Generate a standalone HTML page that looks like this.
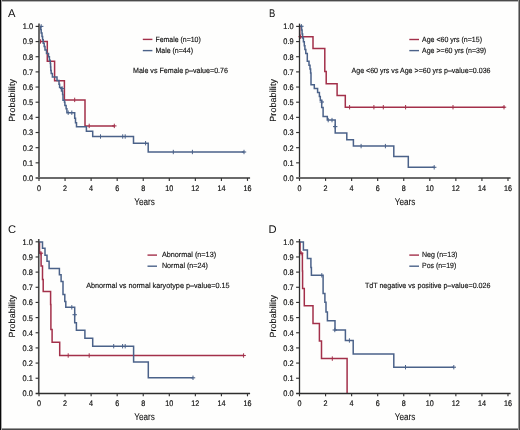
<!DOCTYPE html>
<html><head><meta charset="utf-8"><title>Kaplan-Meier curves</title>
<style>
html,body{margin:0;padding:0;background:#fff;width:520px;height:430px;overflow:hidden}
svg{display:block;will-change:transform}
text{font-family:'Liberation Sans', sans-serif;text-rendering:geometricPrecision;fill:#111;stroke:#111;stroke-width:0.22px}
.tk{font-size:8.1px;stroke-width:0.2px}
.ti{font-size:9.8px;stroke-width:0.1px}
.lg{font-size:7.6px;stroke-width:0.15px}
.pl{font-size:11.2px;stroke:none}
</style></head><body>
<svg width="520" height="430" viewBox="0 0 520 430">
<defs><filter id="soft" x="0" y="0" width="520" height="430" filterUnits="userSpaceOnUse" color-interpolation-filters="sRGB"><feGaussianBlur stdDeviation="0.42"/></filter></defs>
<rect x="0" y="0" width="520" height="430" fill="#fefefd"/>
<rect x="0" y="0" width="520" height="1" fill="#4a4a4a"/>
<rect x="0" y="1" width="520" height="1" fill="#b4b4b4"/>
<rect x="0" y="429" width="520" height="1" fill="#4a4a4a"/>
<rect x="0" y="428" width="520" height="1" fill="#9a9a9a"/>
<rect x="0" y="0" width="1" height="430" fill="#080808"/>
<rect x="1" y="0" width="1" height="430" fill="#a8a8a8"/>
<rect x="519" y="0" width="1" height="430" fill="#4a4a4a"/>
<rect x="518" y="0" width="1" height="430" fill="#9a9a9a"/>
<g filter="url(#soft)">
<text x="7.9" y="17.4" class="pl">A</text>
<text x="269.0" y="17.4" class="pl" textLength="6.3" lengthAdjust="spacingAndGlyphs">B</text>
<text x="7.9" y="232.5" class="pl">C</text>
<text x="268.4" y="232.5" class="pl">D</text>
<path d="M39.3,26.4 V41.5 H47.3 V61.2 H54.6 V80.7 H64.4 V99.9 H85.0 V125.9 H114.6" fill="none" stroke="#a3304a" stroke-width="1.5" stroke-linejoin="miter" stroke-linecap="butt"/>
<line x1="40.50" y1="39.30" x2="40.50" y2="43.70" stroke="#a3304a" stroke-width="1.0"/>
<line x1="38.30" y1="41.50" x2="42.70" y2="41.50" stroke="#a3304a" stroke-width="1.1"/>
<line x1="74.70" y1="97.70" x2="74.70" y2="102.10" stroke="#a3304a" stroke-width="1.0"/>
<line x1="89.20" y1="123.70" x2="89.20" y2="128.10" stroke="#a3304a" stroke-width="1.0"/>
<line x1="114.30" y1="123.70" x2="114.30" y2="128.10" stroke="#a3304a" stroke-width="1.0"/>
<line x1="112.10" y1="125.90" x2="116.50" y2="125.90" stroke="#a3304a" stroke-width="1.1"/>
<path d="M38.8,26.4 H40.4 V29.5 H41.2 V33.0 H42.0 V36.4 H42.6 V39.8 H43.2 V43.2 H44.2 V46.6 H45.0 V50.0 H46.5 V53.4 H48.5 V56.8 H49.4 V60.2 H50.3 V63.6 H50.6 V67.0 H50.8 V70.4 H51.2 V73.6 H52.4 V77.0 H57.0 V80.6 H59.0 V84.2 H59.6 V87.6 H61.5 V91.0 H62.6 V94.4 H63.0 V100.3 H64.5 V102.3 H64.9 V105.6 H66.1 V108.8 H66.9 V112.7 H74.7 V118.2 H75.5 V122.8 H76.5 V126.7 H86.4 V131.3 H92.7 V136.5 H133.5 V143.2 H148.2 V152.0 H244.2" fill="none" stroke="#4b6289" stroke-width="1.5" stroke-linejoin="miter" stroke-linecap="butt"/>
<line x1="41.20" y1="24.20" x2="41.20" y2="28.60" stroke="#4b6289" stroke-width="1.0"/>
<line x1="39.00" y1="26.40" x2="43.40" y2="26.40" stroke="#4b6289" stroke-width="1.1"/>
<line x1="62.20" y1="86.40" x2="62.20" y2="90.80" stroke="#4b6289" stroke-width="1.0"/>
<line x1="60.00" y1="88.60" x2="64.40" y2="88.60" stroke="#4b6289" stroke-width="1.1"/>
<line x1="68.20" y1="110.50" x2="68.20" y2="114.90" stroke="#4b6289" stroke-width="1.0"/>
<line x1="71.80" y1="110.50" x2="71.80" y2="114.90" stroke="#4b6289" stroke-width="1.0"/>
<line x1="100.50" y1="134.30" x2="100.50" y2="138.70" stroke="#4b6289" stroke-width="1.0"/>
<line x1="122.70" y1="134.30" x2="122.70" y2="138.70" stroke="#4b6289" stroke-width="1.0"/>
<line x1="125.20" y1="134.30" x2="125.20" y2="138.70" stroke="#4b6289" stroke-width="1.0"/>
<line x1="145.60" y1="141.00" x2="145.60" y2="145.40" stroke="#4b6289" stroke-width="1.0"/>
<line x1="173.30" y1="149.80" x2="173.30" y2="154.20" stroke="#4b6289" stroke-width="1.0"/>
<line x1="192.40" y1="149.80" x2="192.40" y2="154.20" stroke="#4b6289" stroke-width="1.0"/>
<line x1="244.00" y1="149.80" x2="244.00" y2="154.20" stroke="#4b6289" stroke-width="1.0"/>
<line x1="241.80" y1="152.00" x2="246.20" y2="152.00" stroke="#4b6289" stroke-width="1.1"/>
<line x1="142.8" y1="39.4" x2="152.4" y2="39.4" stroke="#a3304a" stroke-width="1.4"/>
<line x1="142.8" y1="50.6" x2="152.4" y2="50.6" stroke="#4b6289" stroke-width="1.4"/>
<text x="155.4" y="41.55" class="lg" textLength="45.4" lengthAdjust="spacingAndGlyphs">Female (n=10)</text>
<text x="155.4" y="52.75" class="lg" textLength="37.6" lengthAdjust="spacingAndGlyphs">Male (n=44)</text>
<text x="133.0" y="73.1" class="lg" textLength="95.0" lengthAdjust="spacingAndGlyphs">Male vs Female p–value=0.76</text>
<path d="M299.7,26.2 V36.7 H313.0 V48.5 H324.8 V71.5 H326.2 V83.8 H337.1 V95.4 H345.3 V107.2 H504.8" fill="none" stroke="#a3304a" stroke-width="1.5" stroke-linejoin="miter" stroke-linecap="butt"/>
<line x1="300.60" y1="34.50" x2="300.60" y2="38.90" stroke="#a3304a" stroke-width="1.0"/>
<line x1="298.40" y1="36.70" x2="302.80" y2="36.70" stroke="#a3304a" stroke-width="1.1"/>
<line x1="349.60" y1="105.00" x2="349.60" y2="109.40" stroke="#a3304a" stroke-width="1.0"/>
<line x1="373.90" y1="105.00" x2="373.90" y2="109.40" stroke="#a3304a" stroke-width="1.0"/>
<line x1="383.30" y1="105.00" x2="383.30" y2="109.40" stroke="#a3304a" stroke-width="1.0"/>
<line x1="405.60" y1="105.00" x2="405.60" y2="109.40" stroke="#a3304a" stroke-width="1.0"/>
<line x1="453.00" y1="105.00" x2="453.00" y2="109.40" stroke="#a3304a" stroke-width="1.0"/>
<line x1="504.00" y1="105.00" x2="504.00" y2="109.40" stroke="#a3304a" stroke-width="1.0"/>
<line x1="501.80" y1="107.20" x2="506.20" y2="107.20" stroke="#a3304a" stroke-width="1.1"/>
<path d="M299.5,26.2 H301.6 V30.1 H302.1 V34.0 H302.6 V37.9 H303.4 V41.8 H304.3 V45.7 H304.9 V49.6 H305.8 V53.5 H307.3 V61.3 H309.0 V65.2 H310.0 V69.1 H310.6 V73.0 H311.0 V84.7 H314.3 V88.6 H317.6 V92.5 H319.4 V96.4 H320.3 V100.3 H321.7 V107.5 H323.1 V116.4 H327.3 V120.1 H335.2 V133.1 H346.8 V139.7 H353.4 V146.1 H393.8 V156.4 H408.3 V167.3 H434.5" fill="none" stroke="#4b6289" stroke-width="1.5" stroke-linejoin="miter" stroke-linecap="butt"/>
<line x1="301.40" y1="24.10" x2="301.40" y2="28.50" stroke="#4b6289" stroke-width="1.0"/>
<line x1="299.20" y1="26.30" x2="303.60" y2="26.30" stroke="#4b6289" stroke-width="1.1"/>
<line x1="321.80" y1="99.80" x2="321.80" y2="104.20" stroke="#4b6289" stroke-width="1.0"/>
<line x1="319.60" y1="102.00" x2="324.00" y2="102.00" stroke="#4b6289" stroke-width="1.1"/>
<line x1="328.20" y1="117.90" x2="328.20" y2="122.30" stroke="#4b6289" stroke-width="1.0"/>
<line x1="332.00" y1="117.90" x2="332.00" y2="122.30" stroke="#4b6289" stroke-width="1.0"/>
<line x1="335.20" y1="124.40" x2="335.20" y2="128.80" stroke="#4b6289" stroke-width="1.0"/>
<line x1="333.00" y1="126.60" x2="337.40" y2="126.60" stroke="#4b6289" stroke-width="1.1"/>
<line x1="361.10" y1="143.90" x2="361.10" y2="148.30" stroke="#4b6289" stroke-width="1.0"/>
<line x1="385.40" y1="143.90" x2="385.40" y2="148.30" stroke="#4b6289" stroke-width="1.0"/>
<line x1="434.20" y1="165.10" x2="434.20" y2="169.50" stroke="#4b6289" stroke-width="1.0"/>
<line x1="432.00" y1="167.30" x2="436.40" y2="167.30" stroke="#4b6289" stroke-width="1.1"/>
<line x1="409.3" y1="39.5" x2="419.0" y2="39.5" stroke="#a3304a" stroke-width="1.4"/>
<line x1="409.3" y1="50.6" x2="419.0" y2="50.6" stroke="#4b6289" stroke-width="1.4"/>
<text x="422.0" y="41.65" class="lg" textLength="60.0" lengthAdjust="spacingAndGlyphs">Age &lt;60 yrs (n=15)</text>
<text x="422.0" y="52.75" class="lg" textLength="64.2" lengthAdjust="spacingAndGlyphs">Age &gt;=60 yrs (n=39)</text>
<text x="351.5" y="73.1" class="lg" textLength="139.0" lengthAdjust="spacingAndGlyphs">Age &lt;60 yrs vs Age &gt;=60 yrs p–value=0.036</text>
<path d="M39.5,241.8 V253.2 H41.1 V266.1 H42.5 V279.5 H43.2 V291.4 H50.6 V304.5 H50.9 V329.6 H52.1 V342.3 H59.7 V355.5 H244.0" fill="none" stroke="#a3304a" stroke-width="1.5" stroke-linejoin="miter" stroke-linecap="butt"/>
<line x1="40.90" y1="251.00" x2="40.90" y2="255.40" stroke="#a3304a" stroke-width="1.0"/>
<line x1="38.70" y1="253.20" x2="43.10" y2="253.20" stroke="#a3304a" stroke-width="1.1"/>
<line x1="68.20" y1="353.30" x2="68.20" y2="357.70" stroke="#a3304a" stroke-width="1.0"/>
<line x1="89.20" y1="353.30" x2="89.20" y2="357.70" stroke="#a3304a" stroke-width="1.0"/>
<line x1="243.60" y1="353.30" x2="243.60" y2="357.70" stroke="#a3304a" stroke-width="1.0"/>
<line x1="241.40" y1="355.50" x2="245.80" y2="355.50" stroke="#a3304a" stroke-width="1.1"/>
<path d="M38.8,241.9 H42.5 V248.3 H45.0 V255.3 H47.0 V261.3 H49.1 V268.4 H59.4 V274.7 H61.1 V281.4 H63.0 V294.6 H64.8 V301.5 H65.8 V307.3 H74.7 V322.7 H76.4 V330.3 H84.9 V338.2 H92.7 V346.2 H133.6 V362.0 H148.3 V377.8 H193.2" fill="none" stroke="#4b6289" stroke-width="1.5" stroke-linejoin="miter" stroke-linecap="butt"/>
<line x1="71.80" y1="305.10" x2="71.80" y2="309.50" stroke="#4b6289" stroke-width="1.0"/>
<line x1="74.70" y1="312.50" x2="74.70" y2="316.90" stroke="#4b6289" stroke-width="1.0"/>
<line x1="72.50" y1="314.70" x2="76.90" y2="314.70" stroke="#4b6289" stroke-width="1.1"/>
<line x1="113.70" y1="344.00" x2="113.70" y2="348.40" stroke="#4b6289" stroke-width="1.0"/>
<line x1="122.60" y1="344.00" x2="122.60" y2="348.40" stroke="#4b6289" stroke-width="1.0"/>
<line x1="125.20" y1="344.00" x2="125.20" y2="348.40" stroke="#4b6289" stroke-width="1.0"/>
<line x1="193.00" y1="375.60" x2="193.00" y2="380.00" stroke="#4b6289" stroke-width="1.0"/>
<line x1="190.80" y1="377.80" x2="195.20" y2="377.80" stroke="#4b6289" stroke-width="1.1"/>
<line x1="147.5" y1="255.1" x2="157.0" y2="255.1" stroke="#a3304a" stroke-width="1.4"/>
<line x1="147.5" y1="266.2" x2="157.0" y2="266.2" stroke="#4b6289" stroke-width="1.4"/>
<text x="161.9" y="257.25" class="lg" textLength="54.2" lengthAdjust="spacingAndGlyphs">Abnormal (n=13)</text>
<text x="161.9" y="268.35" class="lg" textLength="46.0" lengthAdjust="spacingAndGlyphs">Normal (n=24)</text>
<text x="86.2" y="287.5" class="lg" textLength="143.4" lengthAdjust="spacingAndGlyphs">Abnormal vs normal karyotype p–value=0.15</text>
<path d="M300.0,241.8 V253.2 H302.4 V270.9 H302.6 V288.4 H304.3 V305.8 H313.0 V323.4 H319.4 V341.0 H321.5 V358.6 H347.1 V393.3" fill="none" stroke="#a3304a" stroke-width="1.5" stroke-linejoin="miter" stroke-linecap="butt"/>
<line x1="301.10" y1="251.00" x2="301.10" y2="255.40" stroke="#a3304a" stroke-width="1.0"/>
<line x1="298.90" y1="253.20" x2="303.30" y2="253.20" stroke="#a3304a" stroke-width="1.1"/>
<line x1="332.30" y1="356.40" x2="332.30" y2="360.80" stroke="#a3304a" stroke-width="1.0"/>
<path d="M299.5,242.0 H303.4 V250.1 H307.4 V258.6 H310.9 V267.4 H311.4 V275.3 H323.1 V293.6 H324.9 V302.3 H326.0 V312.0 H327.4 V320.7 H335.0 V330.0 H345.4 V340.5 H353.2 V354.0 H393.8 V367.2 H454.0" fill="none" stroke="#4b6289" stroke-width="1.5" stroke-linejoin="miter" stroke-linecap="butt"/>
<line x1="321.80" y1="273.10" x2="321.80" y2="277.50" stroke="#4b6289" stroke-width="1.0"/>
<line x1="334.80" y1="327.80" x2="334.80" y2="332.20" stroke="#4b6289" stroke-width="1.0"/>
<line x1="332.60" y1="330.00" x2="337.00" y2="330.00" stroke="#4b6289" stroke-width="1.1"/>
<line x1="349.40" y1="338.30" x2="349.40" y2="342.70" stroke="#4b6289" stroke-width="1.0"/>
<line x1="405.50" y1="365.00" x2="405.50" y2="369.40" stroke="#4b6289" stroke-width="1.0"/>
<line x1="453.80" y1="365.00" x2="453.80" y2="369.40" stroke="#4b6289" stroke-width="1.0"/>
<line x1="451.60" y1="367.20" x2="456.00" y2="367.20" stroke="#4b6289" stroke-width="1.1"/>
<line x1="409.3" y1="255.1" x2="419.0" y2="255.1" stroke="#a3304a" stroke-width="1.4"/>
<line x1="409.3" y1="266.2" x2="419.0" y2="266.2" stroke="#4b6289" stroke-width="1.4"/>
<text x="422.0" y="257.25" class="lg" textLength="35.4" lengthAdjust="spacingAndGlyphs">Neg (n=13)</text>
<text x="422.0" y="268.35" class="lg" textLength="34.2" lengthAdjust="spacingAndGlyphs">Pos (n=19)</text>
<text x="364.9" y="287.5" class="lg" textLength="125.6" lengthAdjust="spacingAndGlyphs">TdT negative vs positive p–value=0.026</text>
<line x1="39.00" y1="23.60" x2="39.00" y2="178.00" stroke="#6a6a6a" stroke-width="2.0"/>
<line x1="35.60" y1="178.00" x2="250.08" y2="178.00" stroke="#6a6a6a" stroke-width="2.0"/>
<text x="33.10" y="180.90" text-anchor="end" class="tk" textLength="10.3" lengthAdjust="spacingAndGlyphs">0.0</text>
<line x1="35.60" y1="162.84" x2="39.00" y2="162.84" stroke="#333" stroke-width="1.15"/>
<text x="33.10" y="165.74" text-anchor="end" class="tk" textLength="10.3" lengthAdjust="spacingAndGlyphs">0.1</text>
<line x1="35.60" y1="147.68" x2="39.00" y2="147.68" stroke="#333" stroke-width="1.15"/>
<text x="33.10" y="150.58" text-anchor="end" class="tk" textLength="10.3" lengthAdjust="spacingAndGlyphs">0.2</text>
<line x1="35.60" y1="132.52" x2="39.00" y2="132.52" stroke="#333" stroke-width="1.15"/>
<text x="33.10" y="135.42" text-anchor="end" class="tk" textLength="10.3" lengthAdjust="spacingAndGlyphs">0.3</text>
<line x1="35.60" y1="117.36" x2="39.00" y2="117.36" stroke="#333" stroke-width="1.15"/>
<text x="33.10" y="120.26" text-anchor="end" class="tk" textLength="10.3" lengthAdjust="spacingAndGlyphs">0.4</text>
<line x1="35.60" y1="102.20" x2="39.00" y2="102.20" stroke="#333" stroke-width="1.15"/>
<text x="33.10" y="105.10" text-anchor="end" class="tk" textLength="10.3" lengthAdjust="spacingAndGlyphs">0.5</text>
<line x1="35.60" y1="87.04" x2="39.00" y2="87.04" stroke="#333" stroke-width="1.15"/>
<text x="33.10" y="89.94" text-anchor="end" class="tk" textLength="10.3" lengthAdjust="spacingAndGlyphs">0.6</text>
<line x1="35.60" y1="71.88" x2="39.00" y2="71.88" stroke="#333" stroke-width="1.15"/>
<text x="33.10" y="74.78" text-anchor="end" class="tk" textLength="10.3" lengthAdjust="spacingAndGlyphs">0.7</text>
<line x1="35.60" y1="56.72" x2="39.00" y2="56.72" stroke="#333" stroke-width="1.15"/>
<text x="33.10" y="59.62" text-anchor="end" class="tk" textLength="10.3" lengthAdjust="spacingAndGlyphs">0.8</text>
<line x1="35.60" y1="41.56" x2="39.00" y2="41.56" stroke="#333" stroke-width="1.15"/>
<text x="33.10" y="44.46" text-anchor="end" class="tk" textLength="10.3" lengthAdjust="spacingAndGlyphs">0.9</text>
<line x1="35.60" y1="26.40" x2="39.00" y2="26.40" stroke="#333" stroke-width="1.15"/>
<text x="33.10" y="29.30" text-anchor="end" class="tk" textLength="10.3" lengthAdjust="spacingAndGlyphs">1.0</text>
<line x1="39.00" y1="178.00" x2="39.00" y2="180.90" stroke="#333" stroke-width="1.15"/>
<text x="39.00" y="190.50" text-anchor="middle" class="tk" textLength="4.0" lengthAdjust="spacingAndGlyphs">0</text>
<line x1="65.06" y1="178.00" x2="65.06" y2="180.90" stroke="#333" stroke-width="1.15"/>
<text x="65.06" y="190.50" text-anchor="middle" class="tk" textLength="4.0" lengthAdjust="spacingAndGlyphs">2</text>
<line x1="91.12" y1="178.00" x2="91.12" y2="180.90" stroke="#333" stroke-width="1.15"/>
<text x="91.12" y="190.50" text-anchor="middle" class="tk" textLength="4.0" lengthAdjust="spacingAndGlyphs">4</text>
<line x1="117.18" y1="178.00" x2="117.18" y2="180.90" stroke="#333" stroke-width="1.15"/>
<text x="117.18" y="190.50" text-anchor="middle" class="tk" textLength="4.0" lengthAdjust="spacingAndGlyphs">6</text>
<line x1="143.24" y1="178.00" x2="143.24" y2="180.90" stroke="#333" stroke-width="1.15"/>
<text x="143.24" y="190.50" text-anchor="middle" class="tk" textLength="4.0" lengthAdjust="spacingAndGlyphs">8</text>
<line x1="169.30" y1="178.00" x2="169.30" y2="180.90" stroke="#333" stroke-width="1.15"/>
<text x="169.30" y="190.50" text-anchor="middle" class="tk" textLength="8.0" lengthAdjust="spacingAndGlyphs">10</text>
<line x1="195.36" y1="178.00" x2="195.36" y2="180.90" stroke="#333" stroke-width="1.15"/>
<text x="195.36" y="190.50" text-anchor="middle" class="tk" textLength="8.0" lengthAdjust="spacingAndGlyphs">12</text>
<line x1="221.42" y1="178.00" x2="221.42" y2="180.90" stroke="#333" stroke-width="1.15"/>
<text x="221.42" y="190.50" text-anchor="middle" class="tk" textLength="8.0" lengthAdjust="spacingAndGlyphs">14</text>
<line x1="247.48" y1="178.00" x2="247.48" y2="180.90" stroke="#333" stroke-width="1.15"/>
<text x="247.48" y="190.50" text-anchor="middle" class="tk" textLength="8.0" lengthAdjust="spacingAndGlyphs">16</text>
<text x="144.50" y="204.50" text-anchor="middle" class="ti" textLength="20.6" lengthAdjust="spacingAndGlyphs">Years</text>
<text transform="translate(15.20,100.30) rotate(-90)" x="0" y="0" text-anchor="middle" class="ti" style="font-size:8.9px;letter-spacing:0.12px;stroke-width:0.12px">Probability</text>
<line x1="299.50" y1="23.60" x2="299.50" y2="178.00" stroke="#2e2e2e" stroke-width="1.3"/>
<line x1="296.10" y1="178.00" x2="510.58" y2="178.00" stroke="#6a6a6a" stroke-width="2.0"/>
<text x="293.60" y="180.90" text-anchor="end" class="tk" textLength="10.3" lengthAdjust="spacingAndGlyphs">0.0</text>
<line x1="296.10" y1="162.84" x2="299.50" y2="162.84" stroke="#333" stroke-width="1.15"/>
<text x="293.60" y="165.74" text-anchor="end" class="tk" textLength="10.3" lengthAdjust="spacingAndGlyphs">0.1</text>
<line x1="296.10" y1="147.68" x2="299.50" y2="147.68" stroke="#333" stroke-width="1.15"/>
<text x="293.60" y="150.58" text-anchor="end" class="tk" textLength="10.3" lengthAdjust="spacingAndGlyphs">0.2</text>
<line x1="296.10" y1="132.52" x2="299.50" y2="132.52" stroke="#333" stroke-width="1.15"/>
<text x="293.60" y="135.42" text-anchor="end" class="tk" textLength="10.3" lengthAdjust="spacingAndGlyphs">0.3</text>
<line x1="296.10" y1="117.36" x2="299.50" y2="117.36" stroke="#333" stroke-width="1.15"/>
<text x="293.60" y="120.26" text-anchor="end" class="tk" textLength="10.3" lengthAdjust="spacingAndGlyphs">0.4</text>
<line x1="296.10" y1="102.20" x2="299.50" y2="102.20" stroke="#333" stroke-width="1.15"/>
<text x="293.60" y="105.10" text-anchor="end" class="tk" textLength="10.3" lengthAdjust="spacingAndGlyphs">0.5</text>
<line x1="296.10" y1="87.04" x2="299.50" y2="87.04" stroke="#333" stroke-width="1.15"/>
<text x="293.60" y="89.94" text-anchor="end" class="tk" textLength="10.3" lengthAdjust="spacingAndGlyphs">0.6</text>
<line x1="296.10" y1="71.88" x2="299.50" y2="71.88" stroke="#333" stroke-width="1.15"/>
<text x="293.60" y="74.78" text-anchor="end" class="tk" textLength="10.3" lengthAdjust="spacingAndGlyphs">0.7</text>
<line x1="296.10" y1="56.72" x2="299.50" y2="56.72" stroke="#333" stroke-width="1.15"/>
<text x="293.60" y="59.62" text-anchor="end" class="tk" textLength="10.3" lengthAdjust="spacingAndGlyphs">0.8</text>
<line x1="296.10" y1="41.56" x2="299.50" y2="41.56" stroke="#333" stroke-width="1.15"/>
<text x="293.60" y="44.46" text-anchor="end" class="tk" textLength="10.3" lengthAdjust="spacingAndGlyphs">0.9</text>
<line x1="296.10" y1="26.40" x2="299.50" y2="26.40" stroke="#333" stroke-width="1.15"/>
<text x="293.60" y="29.30" text-anchor="end" class="tk" textLength="10.3" lengthAdjust="spacingAndGlyphs">1.0</text>
<line x1="299.50" y1="178.00" x2="299.50" y2="180.90" stroke="#333" stroke-width="1.15"/>
<text x="299.50" y="190.50" text-anchor="middle" class="tk" textLength="4.0" lengthAdjust="spacingAndGlyphs">0</text>
<line x1="325.56" y1="178.00" x2="325.56" y2="180.90" stroke="#333" stroke-width="1.15"/>
<text x="325.56" y="190.50" text-anchor="middle" class="tk" textLength="4.0" lengthAdjust="spacingAndGlyphs">2</text>
<line x1="351.62" y1="178.00" x2="351.62" y2="180.90" stroke="#333" stroke-width="1.15"/>
<text x="351.62" y="190.50" text-anchor="middle" class="tk" textLength="4.0" lengthAdjust="spacingAndGlyphs">4</text>
<line x1="377.68" y1="178.00" x2="377.68" y2="180.90" stroke="#333" stroke-width="1.15"/>
<text x="377.68" y="190.50" text-anchor="middle" class="tk" textLength="4.0" lengthAdjust="spacingAndGlyphs">6</text>
<line x1="403.74" y1="178.00" x2="403.74" y2="180.90" stroke="#333" stroke-width="1.15"/>
<text x="403.74" y="190.50" text-anchor="middle" class="tk" textLength="4.0" lengthAdjust="spacingAndGlyphs">8</text>
<line x1="429.80" y1="178.00" x2="429.80" y2="180.90" stroke="#333" stroke-width="1.15"/>
<text x="429.80" y="190.50" text-anchor="middle" class="tk" textLength="8.0" lengthAdjust="spacingAndGlyphs">10</text>
<line x1="455.86" y1="178.00" x2="455.86" y2="180.90" stroke="#333" stroke-width="1.15"/>
<text x="455.86" y="190.50" text-anchor="middle" class="tk" textLength="8.0" lengthAdjust="spacingAndGlyphs">12</text>
<line x1="481.92" y1="178.00" x2="481.92" y2="180.90" stroke="#333" stroke-width="1.15"/>
<text x="481.92" y="190.50" text-anchor="middle" class="tk" textLength="8.0" lengthAdjust="spacingAndGlyphs">14</text>
<line x1="507.98" y1="178.00" x2="507.98" y2="180.90" stroke="#333" stroke-width="1.15"/>
<text x="507.98" y="190.50" text-anchor="middle" class="tk" textLength="8.0" lengthAdjust="spacingAndGlyphs">16</text>
<text x="405.00" y="204.50" text-anchor="middle" class="ti" textLength="20.6" lengthAdjust="spacingAndGlyphs">Years</text>
<text transform="translate(275.70,100.30) rotate(-90)" x="0" y="0" text-anchor="middle" class="ti" style="font-size:8.9px;letter-spacing:0.12px;stroke-width:0.12px">Probability</text>
<line x1="38.75" y1="239.00" x2="38.75" y2="393.50" stroke="#474747" stroke-width="1.6"/>
<line x1="35.60" y1="393.50" x2="250.08" y2="393.50" stroke="#2e2e2e" stroke-width="1.3"/>
<text x="32.85" y="396.30" text-anchor="end" class="tk" textLength="10.3" lengthAdjust="spacingAndGlyphs">0.0</text>
<line x1="35.60" y1="378.24" x2="38.75" y2="378.24" stroke="#333" stroke-width="1.15"/>
<text x="32.85" y="381.14" text-anchor="end" class="tk" textLength="10.3" lengthAdjust="spacingAndGlyphs">0.1</text>
<line x1="35.60" y1="363.08" x2="38.75" y2="363.08" stroke="#333" stroke-width="1.15"/>
<text x="32.85" y="365.98" text-anchor="end" class="tk" textLength="10.3" lengthAdjust="spacingAndGlyphs">0.2</text>
<line x1="35.60" y1="347.92" x2="38.75" y2="347.92" stroke="#333" stroke-width="1.15"/>
<text x="32.85" y="350.82" text-anchor="end" class="tk" textLength="10.3" lengthAdjust="spacingAndGlyphs">0.3</text>
<line x1="35.60" y1="332.76" x2="38.75" y2="332.76" stroke="#333" stroke-width="1.15"/>
<text x="32.85" y="335.66" text-anchor="end" class="tk" textLength="10.3" lengthAdjust="spacingAndGlyphs">0.4</text>
<line x1="35.60" y1="317.60" x2="38.75" y2="317.60" stroke="#333" stroke-width="1.15"/>
<text x="32.85" y="320.50" text-anchor="end" class="tk" textLength="10.3" lengthAdjust="spacingAndGlyphs">0.5</text>
<line x1="35.60" y1="302.44" x2="38.75" y2="302.44" stroke="#333" stroke-width="1.15"/>
<text x="32.85" y="305.34" text-anchor="end" class="tk" textLength="10.3" lengthAdjust="spacingAndGlyphs">0.6</text>
<line x1="35.60" y1="287.28" x2="38.75" y2="287.28" stroke="#333" stroke-width="1.15"/>
<text x="32.85" y="290.18" text-anchor="end" class="tk" textLength="10.3" lengthAdjust="spacingAndGlyphs">0.7</text>
<line x1="35.60" y1="272.12" x2="38.75" y2="272.12" stroke="#333" stroke-width="1.15"/>
<text x="32.85" y="275.02" text-anchor="end" class="tk" textLength="10.3" lengthAdjust="spacingAndGlyphs">0.8</text>
<line x1="35.60" y1="256.96" x2="38.75" y2="256.96" stroke="#333" stroke-width="1.15"/>
<text x="32.85" y="259.86" text-anchor="end" class="tk" textLength="10.3" lengthAdjust="spacingAndGlyphs">0.9</text>
<line x1="35.60" y1="241.80" x2="38.75" y2="241.80" stroke="#333" stroke-width="1.15"/>
<text x="32.85" y="244.70" text-anchor="end" class="tk" textLength="10.3" lengthAdjust="spacingAndGlyphs">1.0</text>
<line x1="39.00" y1="393.50" x2="39.00" y2="396.30" stroke="#333" stroke-width="1.15"/>
<text x="39.00" y="405.90" text-anchor="middle" class="tk" textLength="4.0" lengthAdjust="spacingAndGlyphs">0</text>
<line x1="65.06" y1="393.50" x2="65.06" y2="396.30" stroke="#333" stroke-width="1.15"/>
<text x="65.06" y="405.90" text-anchor="middle" class="tk" textLength="4.0" lengthAdjust="spacingAndGlyphs">2</text>
<line x1="91.12" y1="393.50" x2="91.12" y2="396.30" stroke="#333" stroke-width="1.15"/>
<text x="91.12" y="405.90" text-anchor="middle" class="tk" textLength="4.0" lengthAdjust="spacingAndGlyphs">4</text>
<line x1="117.18" y1="393.50" x2="117.18" y2="396.30" stroke="#333" stroke-width="1.15"/>
<text x="117.18" y="405.90" text-anchor="middle" class="tk" textLength="4.0" lengthAdjust="spacingAndGlyphs">6</text>
<line x1="143.24" y1="393.50" x2="143.24" y2="396.30" stroke="#333" stroke-width="1.15"/>
<text x="143.24" y="405.90" text-anchor="middle" class="tk" textLength="4.0" lengthAdjust="spacingAndGlyphs">8</text>
<line x1="169.30" y1="393.50" x2="169.30" y2="396.30" stroke="#333" stroke-width="1.15"/>
<text x="169.30" y="405.90" text-anchor="middle" class="tk" textLength="8.0" lengthAdjust="spacingAndGlyphs">10</text>
<line x1="195.36" y1="393.50" x2="195.36" y2="396.30" stroke="#333" stroke-width="1.15"/>
<text x="195.36" y="405.90" text-anchor="middle" class="tk" textLength="8.0" lengthAdjust="spacingAndGlyphs">12</text>
<line x1="221.42" y1="393.50" x2="221.42" y2="396.30" stroke="#333" stroke-width="1.15"/>
<text x="221.42" y="405.90" text-anchor="middle" class="tk" textLength="8.0" lengthAdjust="spacingAndGlyphs">14</text>
<line x1="247.48" y1="393.50" x2="247.48" y2="396.30" stroke="#333" stroke-width="1.15"/>
<text x="247.48" y="405.90" text-anchor="middle" class="tk" textLength="8.0" lengthAdjust="spacingAndGlyphs">16</text>
<text x="144.50" y="419.90" text-anchor="middle" class="ti" textLength="20.6" lengthAdjust="spacingAndGlyphs">Years</text>
<text transform="translate(15.20,316.20) rotate(-90)" x="0" y="0" text-anchor="middle" class="ti" style="font-size:8.9px;letter-spacing:0.12px;stroke-width:0.12px">Probability</text>
<line x1="299.50" y1="239.00" x2="299.50" y2="393.50" stroke="#2e2e2e" stroke-width="1.3"/>
<line x1="296.10" y1="393.50" x2="510.58" y2="393.50" stroke="#2e2e2e" stroke-width="1.3"/>
<text x="293.60" y="396.30" text-anchor="end" class="tk" textLength="10.3" lengthAdjust="spacingAndGlyphs">0.0</text>
<line x1="296.10" y1="378.24" x2="299.50" y2="378.24" stroke="#333" stroke-width="1.15"/>
<text x="293.60" y="381.14" text-anchor="end" class="tk" textLength="10.3" lengthAdjust="spacingAndGlyphs">0.1</text>
<line x1="296.10" y1="363.08" x2="299.50" y2="363.08" stroke="#333" stroke-width="1.15"/>
<text x="293.60" y="365.98" text-anchor="end" class="tk" textLength="10.3" lengthAdjust="spacingAndGlyphs">0.2</text>
<line x1="296.10" y1="347.92" x2="299.50" y2="347.92" stroke="#333" stroke-width="1.15"/>
<text x="293.60" y="350.82" text-anchor="end" class="tk" textLength="10.3" lengthAdjust="spacingAndGlyphs">0.3</text>
<line x1="296.10" y1="332.76" x2="299.50" y2="332.76" stroke="#333" stroke-width="1.15"/>
<text x="293.60" y="335.66" text-anchor="end" class="tk" textLength="10.3" lengthAdjust="spacingAndGlyphs">0.4</text>
<line x1="296.10" y1="317.60" x2="299.50" y2="317.60" stroke="#333" stroke-width="1.15"/>
<text x="293.60" y="320.50" text-anchor="end" class="tk" textLength="10.3" lengthAdjust="spacingAndGlyphs">0.5</text>
<line x1="296.10" y1="302.44" x2="299.50" y2="302.44" stroke="#333" stroke-width="1.15"/>
<text x="293.60" y="305.34" text-anchor="end" class="tk" textLength="10.3" lengthAdjust="spacingAndGlyphs">0.6</text>
<line x1="296.10" y1="287.28" x2="299.50" y2="287.28" stroke="#333" stroke-width="1.15"/>
<text x="293.60" y="290.18" text-anchor="end" class="tk" textLength="10.3" lengthAdjust="spacingAndGlyphs">0.7</text>
<line x1="296.10" y1="272.12" x2="299.50" y2="272.12" stroke="#333" stroke-width="1.15"/>
<text x="293.60" y="275.02" text-anchor="end" class="tk" textLength="10.3" lengthAdjust="spacingAndGlyphs">0.8</text>
<line x1="296.10" y1="256.96" x2="299.50" y2="256.96" stroke="#333" stroke-width="1.15"/>
<text x="293.60" y="259.86" text-anchor="end" class="tk" textLength="10.3" lengthAdjust="spacingAndGlyphs">0.9</text>
<line x1="296.10" y1="241.80" x2="299.50" y2="241.80" stroke="#333" stroke-width="1.15"/>
<text x="293.60" y="244.70" text-anchor="end" class="tk" textLength="10.3" lengthAdjust="spacingAndGlyphs">1.0</text>
<line x1="299.50" y1="393.50" x2="299.50" y2="396.30" stroke="#333" stroke-width="1.15"/>
<text x="299.50" y="405.90" text-anchor="middle" class="tk" textLength="4.0" lengthAdjust="spacingAndGlyphs">0</text>
<line x1="325.56" y1="393.50" x2="325.56" y2="396.30" stroke="#333" stroke-width="1.15"/>
<text x="325.56" y="405.90" text-anchor="middle" class="tk" textLength="4.0" lengthAdjust="spacingAndGlyphs">2</text>
<line x1="351.62" y1="393.50" x2="351.62" y2="396.30" stroke="#333" stroke-width="1.15"/>
<text x="351.62" y="405.90" text-anchor="middle" class="tk" textLength="4.0" lengthAdjust="spacingAndGlyphs">4</text>
<line x1="377.68" y1="393.50" x2="377.68" y2="396.30" stroke="#333" stroke-width="1.15"/>
<text x="377.68" y="405.90" text-anchor="middle" class="tk" textLength="4.0" lengthAdjust="spacingAndGlyphs">6</text>
<line x1="403.74" y1="393.50" x2="403.74" y2="396.30" stroke="#333" stroke-width="1.15"/>
<text x="403.74" y="405.90" text-anchor="middle" class="tk" textLength="4.0" lengthAdjust="spacingAndGlyphs">8</text>
<line x1="429.80" y1="393.50" x2="429.80" y2="396.30" stroke="#333" stroke-width="1.15"/>
<text x="429.80" y="405.90" text-anchor="middle" class="tk" textLength="8.0" lengthAdjust="spacingAndGlyphs">10</text>
<line x1="455.86" y1="393.50" x2="455.86" y2="396.30" stroke="#333" stroke-width="1.15"/>
<text x="455.86" y="405.90" text-anchor="middle" class="tk" textLength="8.0" lengthAdjust="spacingAndGlyphs">12</text>
<line x1="481.92" y1="393.50" x2="481.92" y2="396.30" stroke="#333" stroke-width="1.15"/>
<text x="481.92" y="405.90" text-anchor="middle" class="tk" textLength="8.0" lengthAdjust="spacingAndGlyphs">14</text>
<line x1="507.98" y1="393.50" x2="507.98" y2="396.30" stroke="#333" stroke-width="1.15"/>
<text x="507.98" y="405.90" text-anchor="middle" class="tk" textLength="8.0" lengthAdjust="spacingAndGlyphs">16</text>
<text x="405.00" y="419.90" text-anchor="middle" class="ti" textLength="20.6" lengthAdjust="spacingAndGlyphs">Years</text>
<text transform="translate(275.70,316.20) rotate(-90)" x="0" y="0" text-anchor="middle" class="ti" style="font-size:8.9px;letter-spacing:0.12px;stroke-width:0.12px">Probability</text>
</g>
</svg>
</body></html>
